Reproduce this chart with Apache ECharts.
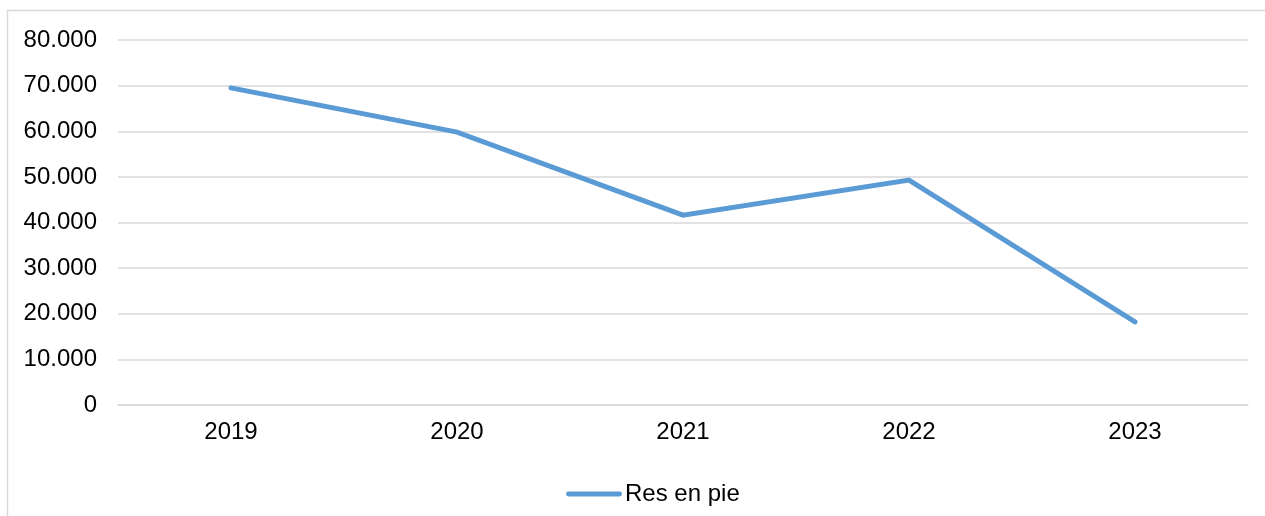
<!DOCTYPE html>
<html><head><meta charset="utf-8">
<script src="https://cdn.jsdelivr.net/npm/echarts@6/dist/echarts.min.js"></script>
<style>html,body{margin:0;padding:0;background:#fff}#c{width:1265px;height:516px}</style>
</head><body><div id="c"></div>
<script>
const categories = ['2019','2020','2021','2022','2023'];
const values = [69500, 59800, 41600, 49300, 18200];
const seriesName = 'Res en pie';
const yTicks = [0, 10000, 20000, 30000, 40000, 50000, 60000, 70000, 80000];

function fmt(v){ return String(v).replace(/\B(?=(\d{3})+(?!\d))/g, '.'); }

const chart = echarts.init(document.getElementById('c'), null, {renderer:'canvas'});
chart.setOption({
  animation:false,
  textStyle:{fontFamily:'Liberation Sans, Arial, sans-serif'},
  graphic:[{type:'rect', shape:{x:7.5,y:10.5,width:1300,height:600}, style:{fill:null, stroke:'#d9d9d9', lineWidth:1.5}, silent:true}],
  grid:{left:118, right:17, top:40, bottom:111},
  legend:{top:477, left:561, itemWidth:56, itemHeight:5, itemGap:10,
    textStyle:{fontSize:24, color:'#000', fontFamily:'Liberation Sans, Arial, sans-serif', padding:[0,0,0,-2]},
    data:[{name:seriesName, icon:'path://M2,0 L54,0 A2.5,2.5 0 0 1 54,5 L2,5 A2.5,2.5 0 0 1 2,0 Z'}]},
  xAxis:{type:'category', data:categories, boundaryGap:true,
    axisLine:{show:true, lineStyle:{color:'#d9d9d9', width:1.5}},
    axisTick:{show:false},
    axisLabel:{fontSize:24, color:'#000', margin:15}},
  yAxis:{type:'value', min:yTicks[0], max:yTicks[yTicks.length-1], interval:10000,
    axisLine:{show:false}, axisTick:{show:false},
    splitLine:{lineStyle:{color:'#d9d9d9', width:1.5}},
    axisLabel:{fontSize:24, color:'#000', margin:21, formatter:fmt}},
  series:[{name:seriesName, type:'line', data:values, symbol:'none',
    lineStyle:{color:'#5b9bd5', width:5, cap:'round', join:'miter'},
    itemStyle:{color:'#5b9bd5'}}]
});
</script></body></html>
